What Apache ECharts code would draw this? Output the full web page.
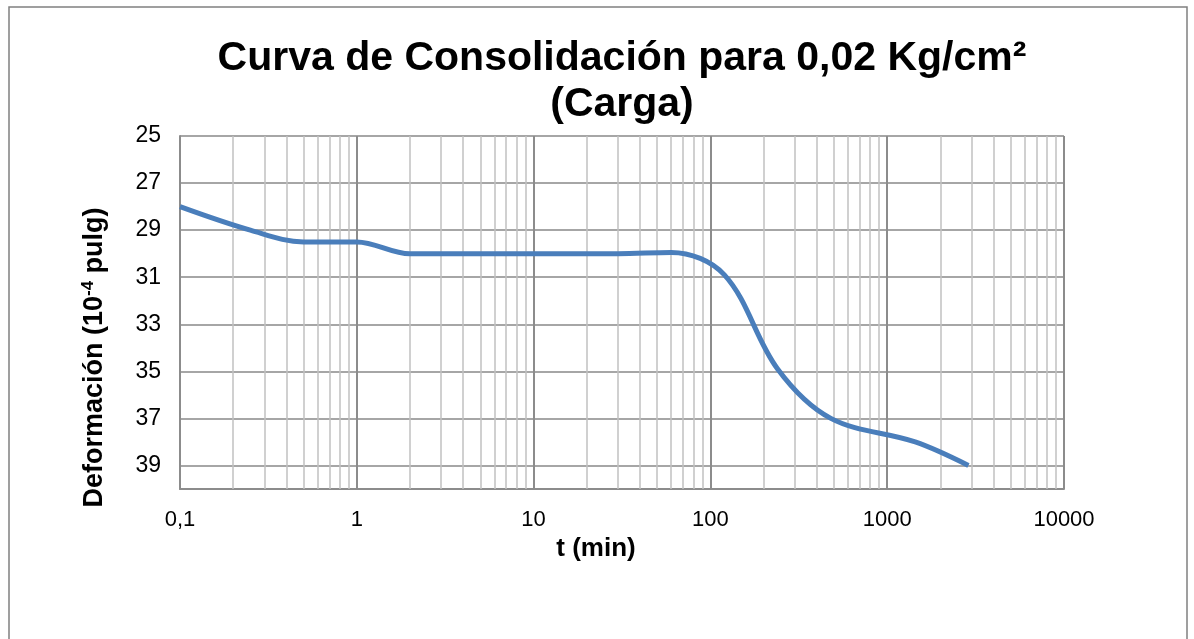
<!DOCTYPE html>
<html>
<head>
<meta charset="utf-8">
<script src="https://cdn.jsdelivr.net/npm/echarts@6/dist/echarts.min.js"></script>
<style>
html,body{margin:0;padding:0;background:#fff;}
#chart{width:1194px;height:639px;}
</style>
</head>
<body>
<div id="chart"></div>
<script>
// Data
const timesMin = [0.1, 0.25, 0.5, 1, 2, 4, 8, 15, 30, 60, 120, 240, 480, 1440, 2880];
const deformation = [28.0, 29.0, 29.5, 29.5, 30.0, 30.0, 30.0, 30.0, 30.0, 29.95, 30.9, 34.9, 37.0, 38.0, 39.0];
const minorMultipliers = [2, 3, 4, 5, 6, 7, 8, 9];
const decades = [0.1, 1, 10, 100, 1000];

const FONT = "'Liberation Sans', Arial, sans-serif";
const seriesData = timesMin.map((t, i) => [t, deformation[i]]);
const minorLines = [];
decades.forEach(d => minorMultipliers.forEach(m => minorLines.push({ xAxis: Number((d * m).toPrecision(6)) })));

const chart = echarts.init(document.getElementById('chart'), null, { renderer: 'canvas' });
chart.setOption({
  backgroundColor: '#ffffff',
  animation: false,
  title: {
    text: 'Curva de Consolidación para 0,02 Kg/cm²\n(Carga)',
    left: 622,
    top: 36,
    padding: 0,
    textAlign: 'center',
    textStyle: { fontFamily: FONT, fontSize: 41, fontWeight: 'bold', color: '#000', lineHeight: 46 }
  },
  graphic: [{
    type: 'rect',
    shape: { x: 9, y: 7, width: 1178, height: 700 },
    style: { fill: 'none', stroke: '#808080', lineWidth: 1.5 },
    silent: true
  }],
  grid: { left: 180, right: 130, top: 136, bottom: 150, containLabel: false },
  xAxis: {
    type: 'log',
    logBase: 10,
    min: 0.1,
    max: 10000,
    name: 't (min)',
    nameLocation: 'middle',
    nameGap: 42,
    nameTextStyle: { fontFamily: FONT, fontSize: 26, fontWeight: 'bold', color: '#000', padding: [0, 52, 0, 0] },
    axisLine: { show: true, lineStyle: { color: '#8c8c8c', width: 2 } },
    axisTick: { show: false },
    axisLabel: {
      fontFamily: FONT, fontSize: 22, color: '#000', margin: 20,
      formatter: v => String(Number(Number(v).toPrecision(6))).replace('.', ',')
    },
    splitLine: { show: true, lineStyle: { color: '#8c8c8c', width: 2 } }
  },
  yAxis: {
    type: 'value',
    inverse: true,
    min: 25,
    max: 40,
    interval: 2,
    name: '{a|Deformación (10}{s|-4}{a| pulg)}',
    nameLocation: 'middle',
    nameGap: 70,
    nameTextStyle: {
      padding: [0, 90, 0, 0],
      rich: {
        a: { fontFamily: FONT, fontSize: 27, fontWeight: 'bold', color: '#000', lineHeight: 30 },
        s: { fontFamily: FONT, fontSize: 17, fontWeight: 'bold', color: '#000', lineHeight: 30, verticalAlign: 'top', padding: [0, 0, 10, 0] }
      }
    },
    axisLine: { show: true, lineStyle: { color: '#8c8c8c', width: 2 } },
    axisTick: { show: false },
    axisLabel: { fontFamily: FONT, fontSize: 23, color: '#000', margin: 19, showMaxLabel: false },
    splitLine: { show: true, lineStyle: { color: '#a6a6a6', width: 2 } }
  },
  series: [
    {
      type: 'line',
      name: 'minor',
      data: [],
      z: 1,
      silent: true,
      markLine: {
        silent: true,
        symbol: 'none',
        animation: false,
        label: { show: false },
        lineStyle: { color: '#c0c0c0', width: 1.5, type: 'solid' },
        emphasis: { disabled: true },
        data: minorLines
      }
    },
    {
      type: 'line',
      name: 'Deformación',
      data: seriesData,
      z: 5,
      smooth: 0.35,
      showSymbol: false,
      symbol: 'none',
      lineStyle: { color: '#4a7ebb', width: 5 },
      itemStyle: { color: '#4a7ebb' }
    }
  ]
});
</script>
</body>
</html>
